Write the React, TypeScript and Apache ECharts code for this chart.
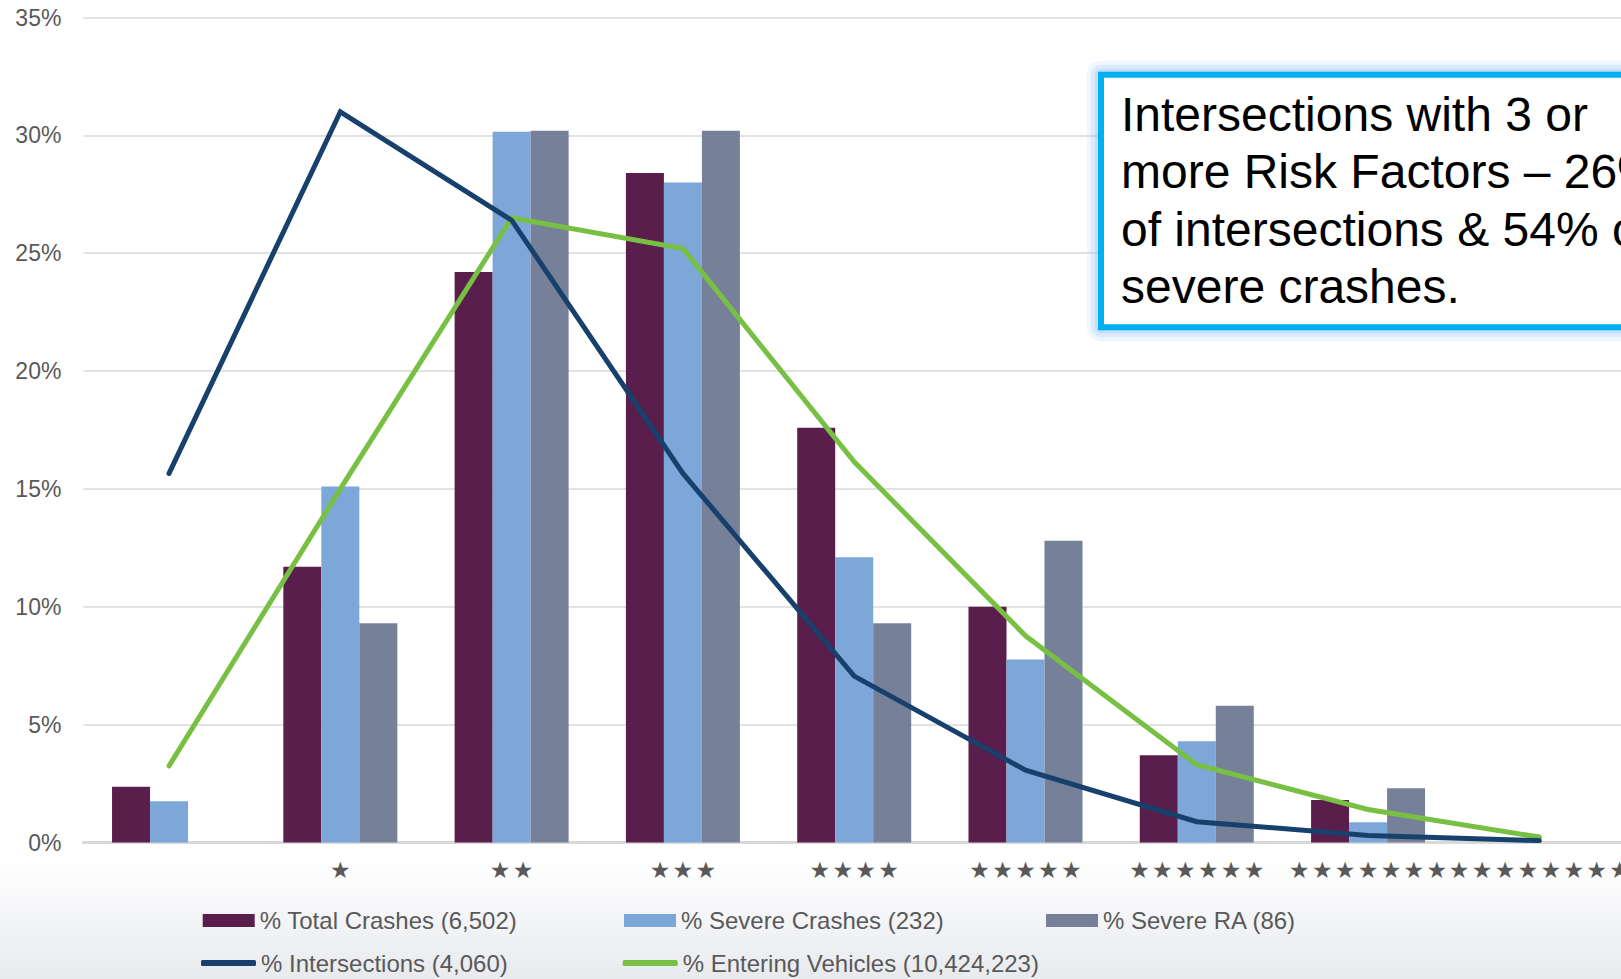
import React, { useEffect, useRef } from "react";
import * as echarts from "echarts";

const categories = ["", "★", "★★", "★★★", "★★★★", "★★★★★", "★★★★★★", "★★★★★★★", "★★★★★★★★"];
const totalCrashes = [2.37, 11.7, 24.2, 28.4, 17.6, 10.0, 3.7, 1.8, 0];
const severeCrashes = [1.75, 15.1, 30.15, 28.0, 12.1, 7.76, 4.3, 0.86, 0];
const severeRA = [0, 9.3, 30.2, 30.2, 9.3, 12.8, 5.8, 2.3, 0];
const intersections = [15.66, 31.0, 26.4, 15.66, 7.06, 3.07, 0.88, 0.3, 0.08];
const enteringVehicles = [3.25, 15.0, 26.5, 25.2, 16.15, 8.77, 3.3, 1.4, 0.23];
const yTicks = { min: 0, max: 35, interval: 5 };

const seriesNames = [
  "% Total Crashes (6,502)",
  "% Severe Crashes (232)",
  "% Severe RA (86)",
  "% Intersections (4,060)",
  "% Entering Vehicles (10,424,223)",
];
const colors = ["#591e4b", "#7da7d8", "#768199", "#17406d", "#77c043"];
const calloutLines = [
  "Intersections with 3 or",
  "more Risk Factors – 26%",
  "of intersections & 54% of",
  "severe crashes.",
];

const FONT = "Liberation Sans, Arial, sans-serif";

export default function App() {
  const ref = useRef<HTMLDivElement>(null);
  useEffect(() => {
    if (!ref.current) return;
    const chart = echarts.init(ref.current, null, { renderer: "svg" });
    const legendText = { fontFamily: FONT, fontSize: 24, color: "#595959" };
    const mkLegend = (i: number, left: number, top: number, line: boolean) => ({
      data: [seriesNames[i]],
      left,
      top,
      padding: 0,
      icon: line ? "roundRect" : "rect",
      itemWidth: line ? 55 : 52,
      itemHeight: line ? 6 : 13,
      textStyle: legendText,
      selectedMode: false,
    });
    const box = { x: 1101, y: 74.7, width: 700, height: 252.6 };
    const glow = [14, 10, 6, 3].map((d, i) => ({
      type: "rect",
      z: 99,
      silent: true,
      shape: { x: box.x - d, y: box.y - d, width: box.width + 2 * d, height: box.height + 2 * d, r: d },
      style: { fill: `rgba(140,190,245,${[0.14, 0.2, 0.26, 0.32][i]})` },
    }));
    const option: any = {
      animation: false,
      backgroundColor: "transparent",
      grid: { left: 83.4, right: 15, top: 17.5, bottom: 136.5, containLabel: false, outerBoundsMode: "none" },
      legend: [
        mkLegend(0, 202.7, 908.5, false),
        mkLegend(1, 624, 908.5, false),
        mkLegend(2, 1046, 908.5, false),
        mkLegend(3, 201, 951, true),
        mkLegend(4, 622.7, 951, true),
      ],
      xAxis: {
        type: "category",
        data: categories,
        axisLine: { show: true, lineStyle: { color: "#d9d9d9", width: 3 } },
        axisTick: { show: false },
        axisLabel: {
          interval: 0,
          hideOverlap: false,
          margin: 16,
          fontFamily: "DejaVu Sans",
          fontSize: 23,
          color: "#595959",
          formatter: (v: string) => Array.from(v).join("\u200A"),
        },
        splitLine: { show: false },
      },
      yAxis: {
        type: "value",
        min: yTicks.min,
        max: yTicks.max,
        interval: yTicks.interval,
        axisLine: { show: false },
        axisTick: { show: false },
        axisLabel: {
          formatter: "{value}%",
          fontFamily: FONT,
          fontSize: 23,
          color: "#595959",
          margin: 22,
        },
        splitLine: { lineStyle: { color: "#d9d9d9", width: 1.5 } },
      },
      series: [
        { name: seriesNames[0], type: "bar", data: totalCrashes, barWidth: 38, barGap: "0%", itemStyle: { color: colors[0] }, z: 2 },
        { name: seriesNames[1], type: "bar", data: severeCrashes, barWidth: 38, barGap: "0%", itemStyle: { color: colors[1] }, z: 2 },
        { name: seriesNames[2], type: "bar", data: severeRA, barWidth: 38, barGap: "0%", itemStyle: { color: colors[2] }, z: 2 },
        {
          name: seriesNames[4],
          type: "line",
          data: enteringVehicles,
          symbol: "none",
          showSymbol: false,
          itemStyle: { color: colors[4] },
          lineStyle: { color: colors[4], width: 5, cap: "round", join: "miter" },
          z: 3,
        },
        {
          name: seriesNames[3],
          type: "line",
          data: intersections,
          symbol: "none",
          showSymbol: false,
          itemStyle: { color: colors[3] },
          lineStyle: { color: colors[3], width: 5, cap: "round", join: "miter" },
          z: 4,
        },
      ],
      graphic: [
        ...glow,
        {
          type: "rect",
          z: 100,
          shape: box,
          style: {
            fill: "#ffffff",
            stroke: "#00b0f0",
            lineWidth: 6,
          },
        },
        ...calloutLines.map((t, i) => ({
          type: "text",
          z: 101,
          x: 1121,
          y: [114.4, 171.7, 229.1, 286.7][i],
          style: {
            text: t,
            fill: "#000000",
            fontFamily: FONT,
            fontSize: 48,
            verticalAlign: "middle",
            align: "left",
          },
        })),
      ],
    };
    chart.setOption(option);
    return () => chart.dispose();
  }, []);
  return (
    <div
      style={{
        position: "fixed",
        left: 0,
        top: 0,
        width: "100vw",
        height: "100vh",
        overflow: "hidden",
        background: "linear-gradient(to bottom, #ffffff 0px, #ffffff 860px, #e8eaee 979px)",
      }}
    >
      <div ref={ref} style={{ width: 1640, height: 979 }} />
    </div>
  );
}
